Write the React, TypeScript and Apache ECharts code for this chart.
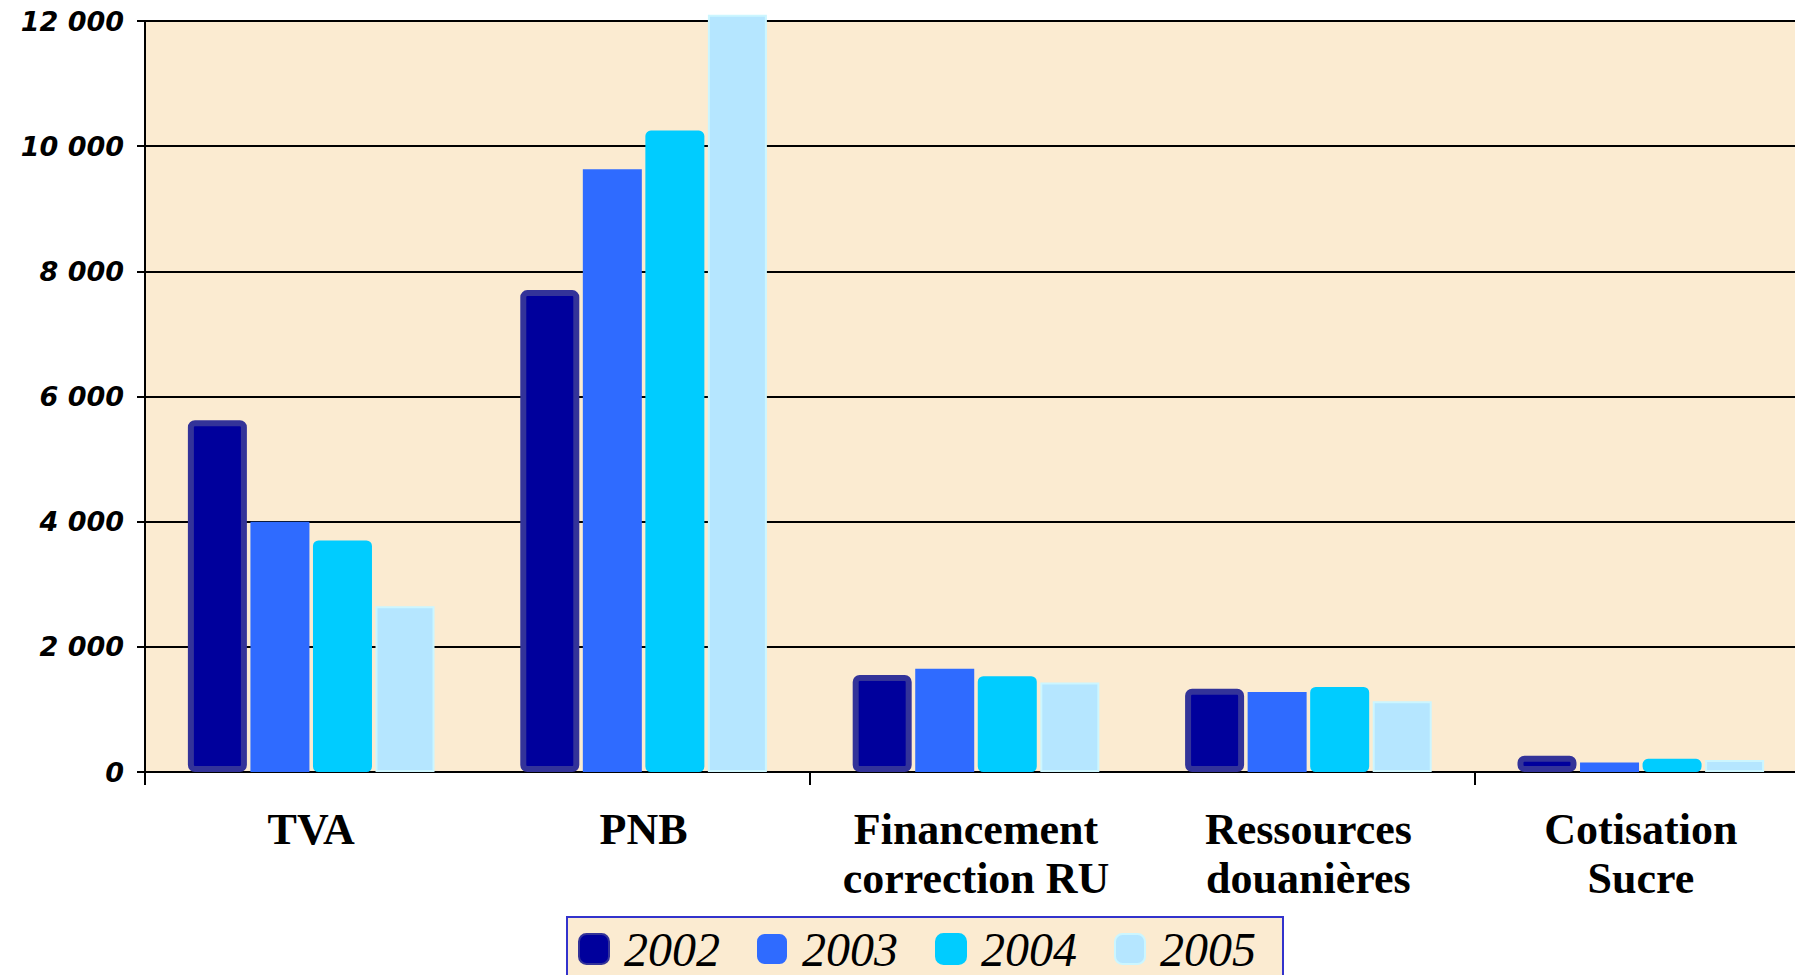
import React, { useEffect, useRef } from "react";
import * as echarts from "echarts";

const categories = ["TVA", "PNB", "Financement\ncorrection RU", "Ressources\ndouanières", "Cotisation\nSucre"];
const years = ["2002", "2003", "2004", "2005"];
const v2002 = [5620, 7700, 1550, 1330, 260];
const v2003 = [4000, 9630, 1650, 1280, 150];
const v2004 = [3700, 10250, 1530, 1360, 210];
const v2005 = [2650, 12100, 1430, 1130, 190];
const yTicks = [0, 2000, 4000, 6000, 8000, 10000, 12000];

export default function App() {
  const ref = useRef<HTMLDivElement>(null);
  useEffect(() => {
    if (!ref.current) return;
    const chart = echarts.init(ref.current, null, { renderer: "svg" });
    const styles = [
      { color: "#00009C", borderColor: "#333399", borderWidth: 6, borderRadius: 4 },
      { color: "#2F6BFF", borderColor: "#2F6BFF", borderWidth: 0 },
      { color: "#00CCFF", borderColor: "#00CCFF", borderWidth: 3, borderRadius: 4 },
      { color: "#B5E6FF", borderColor: "#CCF6FF", borderWidth: 2 },
    ];
    const data = [v2002, v2003, v2004, v2005];
    chart.setOption({
      animation: false,
      backgroundColor: "#ffffff",
      grid: {
        left: 145,
        top: 21,
        right: 0,
        bottom: 203,
        show: true,
        backgroundColor: "#FBEBD1",
        borderWidth: 0,
      },
      legend: {
        data: years,
        left: 567,
        top: 917,
        orient: "horizontal",
        icon: "roundRect",
        itemWidth: 30,
        itemHeight: 30,
        itemGap: 37,
        padding: [8, 27, 8, 11],
        backgroundColor: "#FBEBD1",
        borderColor: "#3333CC",
        borderWidth: 2,
        textStyle: {
          fontFamily: "Liberation Serif",
          fontStyle: "italic",
          fontSize: 48,
          lineHeight: 40,
          color: "#000",
          padding: [0, 0, 0, 10],
        },
      },
      xAxis: {
        type: "category",
        data: categories,
        boundaryGap: true,
        axisLine: { show: true, lineStyle: { color: "#000", width: 2 } },
        axisTick: { show: true, interval: 1, length: 13, lineStyle: { color: "#000", width: 2 } },
        axisLabel: {
          interval: 0,
          margin: 33,
          fontFamily: "Liberation Serif",
          fontWeight: "bold",
          fontSize: 44,
          lineHeight: 49,
          color: "#000",
        },
      },
      yAxis: {
        type: "value",
        min: 0,
        max: 12000,
        interval: 2000,
        axisLine: { show: true, lineStyle: { color: "#000", width: 2 } },
        axisTick: { show: true, inside: false, length: 8, lineStyle: { color: "#000", width: 2 } },
        splitLine: { show: true, lineStyle: { color: "#000", width: 2 } },
        axisLabel: {
          margin: 21,
          fontFamily: "DejaVu Sans",
          fontWeight: "bold",
          fontStyle: "italic",
          fontSize: 27,
          color: "#000",
          formatter: (v: number) =>
            yTicks.includes(v) ? String(v).replace(/\B(?=(\d{3})+(?!\d))/g, " ") : "",
        },
      },
      series: years.map((y, i) => ({
        name: y,
        type: "bar",
        data: data[i],
        barWidth: 59,
        barGap: "6%",
        clip: false,
        itemStyle: styles[i],
      })),
    });
    return () => chart.dispose();
  }, []);
  return (
    <div style={{ position: "absolute", left: 0, top: 0, width: 1795, height: 975, overflow: "hidden" }}>
      <div ref={ref} style={{ width: 1807, height: 975 }} />
    </div>
  );
}
